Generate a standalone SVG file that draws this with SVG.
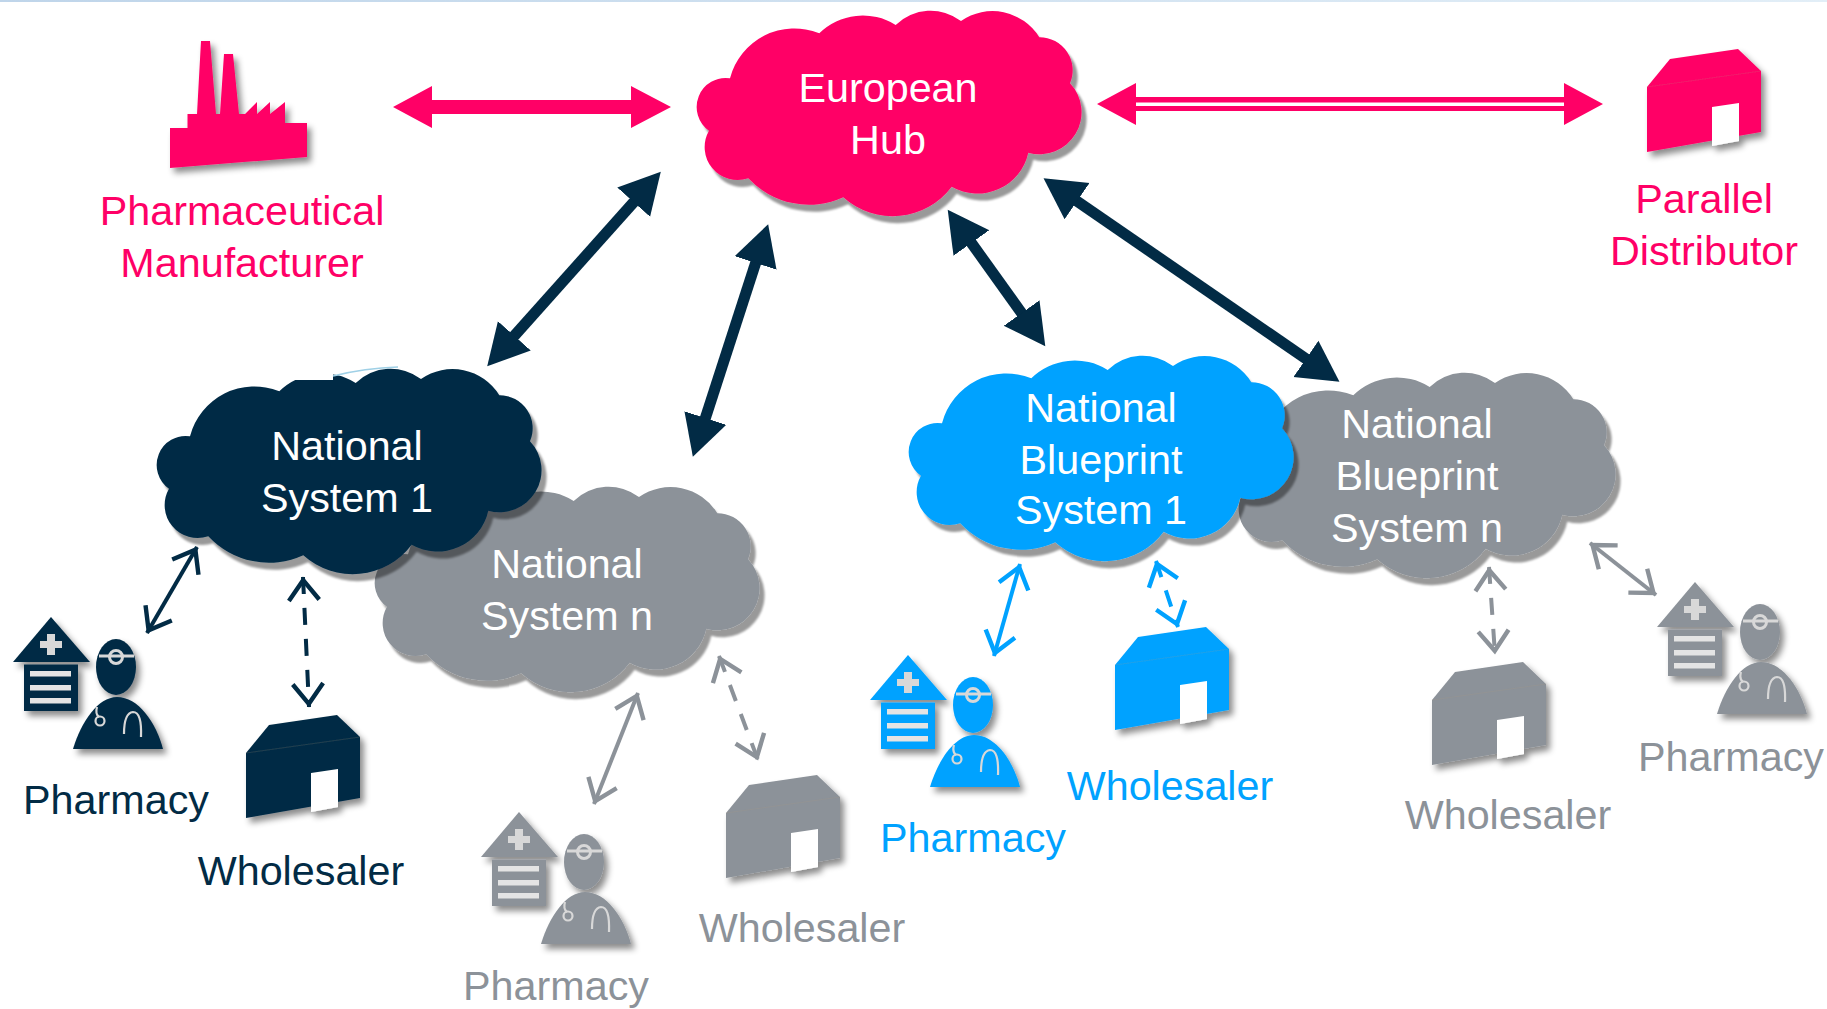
<svg xmlns="http://www.w3.org/2000/svg" width="1827" height="1009" viewBox="0 0 1827 1009">
<style>
text{font-family:"Liberation Sans",Arial,sans-serif;font-size:41.300px;text-anchor:middle}
.pink{fill:#FF0066}.navy{fill:#022B45}.blue{fill:#00A2FF}.gray{fill:#8C9299}.white{fill:#fff}
.cloud{filter:url(#cs)}.icon{filter:url(#is)}
.thick{stroke:#022B45;stroke-width:11;fill:none;marker-start:url(#hN);marker-end:url(#hN)}
.thin{fill:none;stroke-width:4}
.tn{stroke:#022B45;marker-start:url(#oN);marker-end:url(#oN)}
.tg{stroke:#8C9299;marker-start:url(#oG);marker-end:url(#oG)}
.tb{stroke:#00A2FF;marker-start:url(#oB);marker-end:url(#oB)}
.dash{stroke-dasharray:17 14}
.st{fill:none;stroke:#d8d8d8}
</style>
<defs>
<linearGradient id="bar" x1="0" x2="1" y1="0" y2="0"><stop offset="0" stop-color="#BFD5EA"/><stop offset="1" stop-color="#E2EEF7"/></linearGradient>
<filter id="cs" x="-5%" y="-5%" width="112%" height="115%"><feDropShadow dx="5" dy="7" stdDeviation=".8" flood-color="#000" flood-opacity=".4"/></filter>
<filter id="is" x="-15%" y="-15%" width="135%" height="135%"><feDropShadow dx="4" dy="5" stdDeviation="3" flood-color="#000" flood-opacity=".45"/></filter>
<marker id="hN" markerUnits="strokeWidth" viewBox="0 -2.400 4 4.800" refX="1" refY="0" markerWidth="4" markerHeight="4.800" orient="auto-start-reverse"><path d="M0,-2L3.700,0L0,2z" fill="#022B45"/></marker>
<marker id="oN" markerUnits="strokeWidth" viewBox="-6 -5 7 10" refX="0.800" refY="0" markerWidth="7" markerHeight="10" orient="auto-start-reverse"><path d="M-5,-3.800L0,0L-5,3.800" fill="none" stroke="#022B45" stroke-width="1.100"/></marker>
<marker id="oG" markerUnits="strokeWidth" viewBox="-6 -5 7 10" refX="0.800" refY="0" markerWidth="7" markerHeight="10" orient="auto-start-reverse"><path d="M-5,-3.800L0,0L-5,3.800" fill="none" stroke="#8C9299" stroke-width="1.100"/></marker>
<marker id="oB" markerUnits="strokeWidth" viewBox="-6 -5 7 10" refX="0.800" refY="0" markerWidth="7" markerHeight="10" orient="auto-start-reverse"><path d="M-5,-3.800L0,0L-5,3.800" fill="none" stroke="#00A2FF" stroke-width="1.100"/></marker>
<path id="cloud" d="M14,119.700A29,29 0 0 1 35,67.300A66.500,66.500 0 0 1 124.300,22.300A62,62 0 0 1 200.700,14A50,50 0 0 1 266,10A55,55 0 0 1 344.300,26.300A33,33 0 0 1 375,72.300A42,42 0 0 1 333.300,141.700A52,52 0 0 1 256.700,175.700A74,74 0 0 1 148.300,186.300A83,83 0 0 1 53.300,167.300A33,33 0 0 1 14,119.700Z"/>
<g id="ware"><path d="M0,38L23,10L91,0L114,22V83L0,103Z"/><path d="M0,38L114,22" fill="none" stroke="#b09a80" stroke-opacity=".18"/><path d="M65,58L92,54V92L65,97Z" fill="#fff"/></g>
<g id="pharm"><path d="M38,0L77,45H0Z"/><path d="M11,47.500H65V94H11Z"/><path d="M17,54H58V59.500H17ZM17,68H58V73.500H17ZM17,81H58V86.500H17Z" fill="#e4e4e4"/><path d="M34,17h8v7h7v7h-7v7h-8v-7h-7v-7h7z" fill="#d8d8d8"/><ellipse cx="103" cy="50" rx="20" ry="28"/><path d="M60,132C68,105 85,80 104,80C125,80 143,105 150,132Z"/><path class="st" d="M86,39H121" stroke-width="3"/><circle class="st" cx="103" cy="40" r="6.500" stroke-width="3"/><path class="st" d="M84,90Q82,97 86,100M111,117Q111,96 120,95Q129,95 128,120" stroke-width="2.200"/><circle class="st" cx="87" cy="104" r="4.500" stroke-width="2.200"/></g>
</defs>
<rect width="1827" height="2" fill="url(#bar)"/>

<g id="national-system-n"><use href="#cloud" x="373" y="487" class="gray cloud"/><text class="white"><tspan x="567" y="578">National</tspan><tspan x="567" y="630">System n</tspan></text></g>
<g id="national-system-1"><use href="#cloud" x="155" y="369" class="navy cloud"/><rect x="285" y="364" width="48" height="16" fill="#fff"/><path d="M333,376Q365,368 398,367" fill="none" stroke="#9fd0e6" stroke-width="1.500"/><text class="white"><tspan x="347" y="460">National</tspan><tspan x="347" y="512">System 1</tspan></text></g>
<g id="blueprint-n"><use href="#cloud" x="1229" y="373" class="gray cloud"/><text class="white"><tspan x="1417" y="438">National</tspan><tspan x="1417" y="490">Blueprint</tspan><tspan x="1417" y="542">System n</tspan></text></g>
<g id="blueprint-1"><use href="#cloud" x="907" y="356" class="blue cloud"/><text class="white"><tspan x="1101" y="422">National</tspan><tspan x="1101" y="474">Blueprint</tspan><tspan x="1101" y="524">System 1</tspan></text></g>
<g id="european-hub"><use href="#cloud" x="695" y="11" class="pink cloud"/><text class="white"><tspan x="888" y="102">European</tspan><tspan x="888" y="154">Hub</tspan></text></g>

<g id="connectors">
<path id="c-mfr" class="pink" d="M393,107L432,86V100H631V86L671,107L631,128V114H432V128Z"/>
<g id="c-dist"><path class="pink" d="M1097,104L1136,83V97H1564V83L1603,104L1564,125V111H1136V125Z"/><rect x="1136" y="102.500" width="428" height="3.500" fill="#fff"/></g>
<path class="thick" d="M641,194L507,344"/>
<path class="thick" d="M759,252.500L702,428.500"/>
<path class="thick" d="M965,234L1028,322"/>
<path class="thick" d="M1068,195L1315,365"/>
<path class="thin tn" d="M197,547L147,633"/>
<path class="thin tn dash" d="M303,577L309,707"/>
<path class="thin tg" d="M638,693L594,804"/>
<path class="thin tg dash" d="M719,656L758,760"/>
<path class="thin tb" d="M1020,564L994,656"/>
<path class="thin tb dash" d="M1156,561L1178,627"/>
<path class="thin tg dash" d="M1489,567L1495,654"/>
<path class="thin tg" d="M1590,543L1656,595"/>
</g>

<g id="manufacturer"><path class="pink icon" d="M170,128H187.500V114H197L201,41H210L216,114H220L224,54H233L239,114H245L257,102V114L270,102V114L285,102V123H307V157L170,168Z"/><text class="pink"><tspan x="242" y="225">Pharmaceutical</tspan><tspan x="242" y="277">Manufacturer</tspan></text></g>
<g id="distributor"><use href="#ware" x="1647" y="49" class="pink icon"/><text class="pink"><tspan x="1704" y="213">Parallel</tspan><tspan x="1704" y="265">Distributor</tspan></text></g>

<g id="pharmacy-1"><use href="#pharm" x="13" y="617" class="navy icon"/><text class="navy" x="116" y="814">Pharmacy</text></g>
<g id="wholesaler-1"><use href="#ware" x="246" y="715" class="navy icon"/><text class="navy" x="301" y="885">Wholesaler</text></g>
<g id="pharmacy-n"><use href="#pharm" x="481" y="812" class="gray icon"/><text class="gray" x="556" y="1000">Pharmacy</text></g>
<g id="wholesaler-n"><use href="#ware" x="726" y="775" class="gray icon"/><text class="gray" x="802" y="942">Wholesaler</text></g>
<g id="pharmacy-b1"><use href="#pharm" x="870" y="655" class="blue icon"/><text class="blue" x="973" y="852">Pharmacy</text></g>
<g id="wholesaler-b1"><use href="#ware" x="1115" y="627" class="blue icon"/><text class="blue" x="1170" y="800">Wholesaler</text></g>
<g id="wholesaler-bn"><use href="#ware" x="1432" y="662" class="gray icon"/><text class="gray" x="1508" y="829">Wholesaler</text></g>
<g id="pharmacy-bn"><use href="#pharm" x="1657" y="582" class="gray icon"/><text class="gray" x="1731" y="771">Pharmacy</text></g>
</svg>
